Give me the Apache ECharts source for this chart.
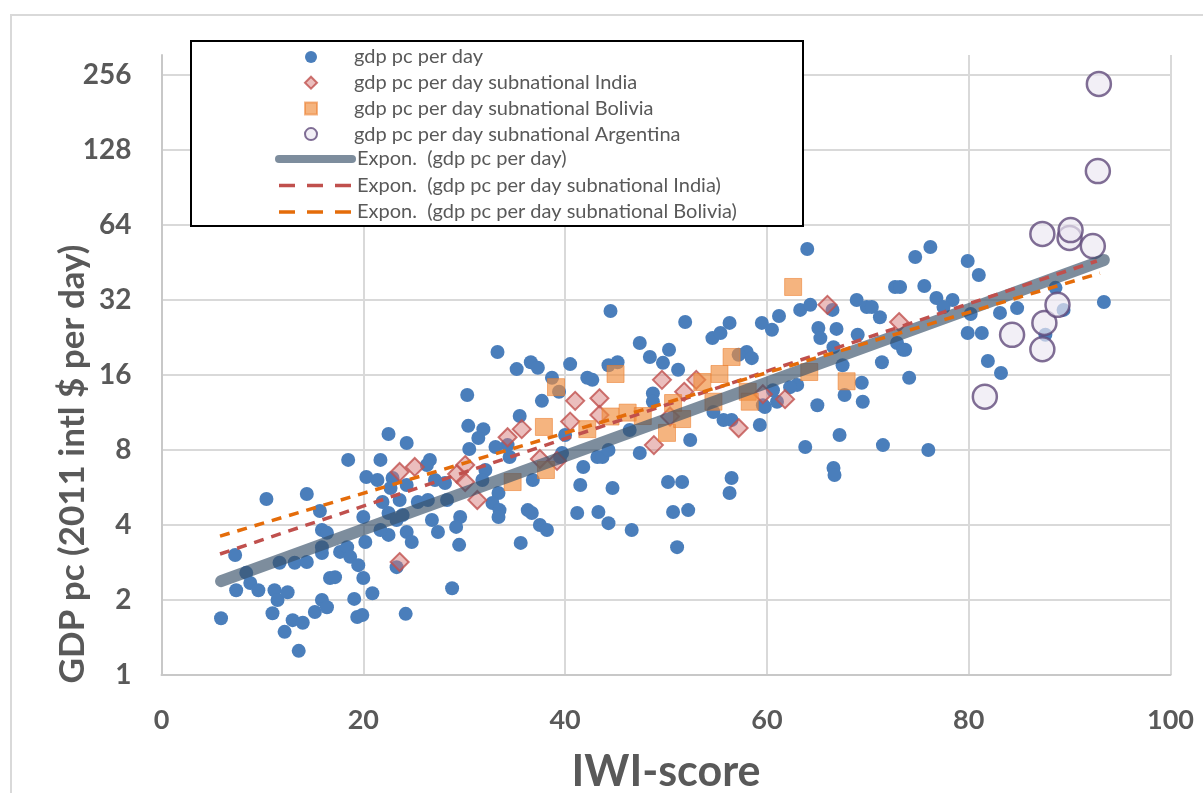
<!DOCTYPE html>
<html><head><meta charset="utf-8">
<script src="https://cdn.jsdelivr.net/npm/echarts@6/dist/echarts.min.js"></script>
<style>html,body{margin:0;padding:0;background:#fff}#c{width:1203px;height:793px}</style>
</head><body><div id="c"></div>
<script>
const seriesNames = ['gdp pc per day','gdp pc per day subnational India','gdp pc per day subnational Bolivia','gdp pc per day subnational Argentina'];
const trendNames = ['Expon.  (gdp pc per day)','Expon.  (gdp pc per day subnational India)','Expon.  (gdp pc per day subnational Bolivia)'];
const xTitle = 'IWI-score';
const yTitle = 'GDP pc (2011 intl $ per day)';
const yTickValues = [1,2,4,8,16,32,64,128,256];

const gdpPoints = [
[5.9,1.69],[7.3,3.03],[7.4,2.19],[8.4,2.57],[8.8,2.34],[9.6,2.19],[10.4,5.09],[11.0,1.77],[11.2,2.19],[11.5,2.0],
[11.7,2.82],[12.2,1.49],[12.5,2.15],[13.0,1.66],[13.2,2.82],[13.6,1.25],[14.0,1.62],[14.4,5.33],[14.4,2.84],[15.2,1.79],
[15.9,2.0],[16.4,1.87],[15.7,4.55],[15.9,3.82],[16.4,3.72],[15.9,3.26],[15.9,3.09],[16.7,2.45],[17.2,2.47],[17.7,3.12],
[18.4,3.26],[18.5,7.30],[19.1,2.02],[18.7,2.98],[19.4,1.71],[19.9,1.74],[19.5,2.76],[20.0,2.45],[20.2,3.42],[20.0,4.31],
[20.3,6.23],[20.9,2.13],[21.4,6.06],[21.7,7.30],[21.9,4.95],[22.5,9.28],[22.5,4.47],[22.5,3.65],[23.3,4.19],[23.3,2.71],
[23.9,4.39],[24.3,8.53],[24.3,5.79],[24.2,1.76],[24.3,3.75],[24.8,3.42],[25.4,4.95],[26.4,5.04],[26.6,7.30],[26.8,4.19],
[27.4,3.75],[27.1,6.06],[28.1,5.90],[28.8,2.23],[22.9,6.18],[26.3,6.96],[21.7,3.82],[23.6,5.04],[28.3,5.04],[22.7,5.63],
[33.3,19.8],[35.2,16.9],[36.6,18.0],[37.3,17.1],[40.5,17.7],[38.7,15.6],[39.4,13.7],[42.2,15.6],[42.7,15.3],[30.3,13.3],
[37.7,12.6],[35.5,10.95],[30.4,10.0],[31.9,9.7],[31.4,8.94],[34.3,8.37],[30.5,8.07],[33.1,8.22],[34.5,7.5],[41.8,6.84],
[40.0,9.19],[39.7,7.78],[32.1,6.65],[31.8,6.06],[33.4,5.38],[32.8,4.9],[36.8,6.06],[41.5,5.79],[33.5,4.59],[33.4,4.31],
[36.3,4.59],[36.7,4.47],[29.6,4.31],[29.2,3.93],[37.5,4.0],[38.2,3.82],[41.2,4.47],[43.3,4.51],[29.5,3.33],[35.6,3.39],
[43.2,7.5],[39.5,7.5],
[44.3,17.5],[45.2,18.0],[47.4,21.5],[48.4,18.9],[49.7,17.9],[50.3,20.2],[51.2,16.8],[48.7,13.5],[48.7,12.5],[54.6,22.5],
[55.4,23.6],[58.0,19.8],[58.5,18.7],[46.4,9.63],[47.4,7.78],[43.7,7.5],[44.3,8.0],[52.4,8.77],[54.7,11.37],[55.7,10.56],
[56.5,10.56],[59.3,10.08],[59.6,12.1],[44.7,5.63],[44.3,4.07],[46.6,3.82],[50.2,5.95],[51.6,5.95],[50.7,4.51],[52.2,4.59],
[51.1,3.26],[56.5,6.18],[56.3,5.38],[44.5,28.9],
[64.0,51.3],[72.7,36.1],[51.9,26.1],[56.3,25.9],[59.5,25.9],[60.5,24.3],[61.2,27.6],[63.3,29.2],[64.3,30.6],[68.9,32.0],
[69.9,30.0],[70.4,30.0],[71.2,27.3],[66.5,29.2],[65.1,24.7],[65.3,22.5],[66.9,24.5],[69.0,23.2],[66.6,20.7],[57.2,19.3],
[67.5,17.5],[71.4,18.0],[72.9,21.5],[69.4,14.9],[69.5,12.5],[67.7,13.3],[65.0,12.1],[63.0,14.6],[62.3,14.3],[61.0,12.5],
[59.8,11.9],[67.2,9.19],[63.8,8.22],[71.5,8.37],[66.6,6.77],[66.7,6.35],[74.1,15.6],[73.5,20.2],[76.0,8.0],[79.9,23.6],
[81.3,23.6],[81.9,18.2],[83.2,16.3],[76.2,52.2],[74.7,47.6],[79.9,45.9],[81.0,40.3],[75.6,36.4],[76.8,32.6],[78.4,32.0],
[77.5,30.0],[73.2,36.1],[80.2,28.1],[83.1,28.4],[84.8,29.7],[88.6,35.8],[89.4,29.2],[93.4,31.4],[87.6,23.2],[73.7,20.2],
[60.6,13.9]
];
const indiaPoints = [
[23.6,2.84],[23.6,6.53],[25.1,6.84],[29.3,6.41],[30.1,6.96],[30.1,5.95],[31.3,5.04],[34.3,9.0],[35.7,9.7],[37.5,7.36],
[39.2,7.23],[40.5,10.4],[41.0,12.6],[43.4,12.9],[43.4,11.06],[48.8,8.37],[49.6,15.3],[50.4,10.9],[51.8,13.7],[53.0,15.3],
[57.2,9.8],[59.6,13.4],[61.8,12.8],[66.0,30.6],[73.1,26.1]
];
const boliviaPoints = [
[34.8,5.95],[37.9,9.9],[38.1,6.65],[39.1,14.3],[42.2,9.7],[44.5,10.9],[45.0,16.15],[46.2,11.3],[47.7,10.95],[50.1,9.37],
[50.7,12.35],[51.6,10.65],[53.6,15.0],[54.7,12.5],[55.3,16.15],[56.5,18.9],[58.1,13.7],[58.3,12.5],[62.6,36.1],[64.2,16.45],
[67.9,15.1]
];
const argentinaPoints = [
[81.6,13.1],[84.3,23.2],[87.3,20.3],[87.5,25.9],[88.8,30.6],[87.3,58.9],[90.0,56.8],[90.1,61.1],[92.3,52.7],[92.8,105.4],
[92.9,235.6]
];
const trendAll = [[5.9,2.38],[93.4,46.3]];
const trendIndia = [[5.8,3.06],[92.7,45.9]];
const trendBolivia = [[5.8,3.61],[93.0,41.0]];

const FONT = 'Lato, "Open Sans", sans-serif';
const TXT = '#595959';
const chart = echarts.init(document.getElementById('c'), null, {renderer:'canvas'});

const GRAY = 'rgba(55,80,105,0.65)';
const RED = '#c0504d';
const ORANGE = '#e46c0a';

const option = {
  animation: false,
  backgroundColor: '#ffffff',
  grid: {left: 161.5, right: 32.5, top: 55, bottom: 118, containLabel: false},
  xAxis: {
    type: 'value', min: 0, max: 100, interval: 20,
    axisLine: {show: true, onZero: false, lineStyle: {color: '#c8c8c8', width: 2}},
    axisTick: {show: false},
    axisLabel: {margin: 32, fontSize: 27, fontWeight: 'bold', color: TXT, fontFamily: FONT},
    splitLine: {show: true, lineStyle: {color: '#d9d9d9', width: 2}}
  },
  yAxis: {
    type: 'log', logBase: 2, min: 1, max: 308,
    axisLine: {show: true, onZero: false, lineStyle: {color: '#c8c8c8', width: 2}},
    axisTick: {show: false},
    axisLabel: {
      margin: 30, fontSize: 28, fontWeight: 'bold', color: TXT, fontFamily: FONT,
      formatter: function (v) {
        const r = Math.round(v);
        return (Math.abs(v - r) < 1e-6 && yTickValues.indexOf(r) >= 0) ? String(r) : '';
      }
    },
    splitLine: {show: true, lineStyle: {color: ['#d9d9d9','#d9d9d9','#d9d9d9','#d9d9d9','#d9d9d9','#d9d9d9','#d9d9d9','#d9d9d9','#d9d9d9','rgba(0,0,0,0)'], width: 2}}
  },
  legend: [
    {
      data: seriesNames, orient: 'vertical', left: 304, top: 47, padding: 0,
      itemWidth: 12, itemHeight: 12, itemGap: 5.7, selectedMode: false, z: 60,
      textStyle: {fontSize: 20, lineHeight: 20, color: TXT, fontFamily: FONT, padding: [0, 0, 0, 32]}
    },
    {
      data: [
        {name: trendNames[0], itemStyle: {opacity: 0}, lineStyle: {width: 8, cap: 'round', color: GRAY}},
        {name: trendNames[1], itemStyle: {opacity: 0}, lineStyle: {width: 3.5, type: [16, 12], color: RED}},
        {name: trendNames[2], itemStyle: {opacity: 0}, lineStyle: {width: 3.5, type: [16, 12], color: ORANGE}}
      ],
      orient: 'vertical', left: 275, top: 149, padding: 0,
      itemWidth: 73, itemHeight: 16, itemGap: 6.5, selectedMode: false, z: 60,
      textStyle: {fontSize: 20, lineHeight: 20, color: TXT, fontFamily: FONT}
    }
  ],
  graphic: [
    {type: 'rect', silent: true, z: -1, shape: {x: 11, y: 15, width: 1210, height: 820}, style: {fill: 'none', stroke: '#d9d9d9', lineWidth: 2}},
    {type: 'rect', silent: true, z: 50, shape: {x: 191, y: 41, width: 612, height: 185}, style: {fill: '#ffffff', stroke: '#000000', lineWidth: 2}},
    {type: 'text', silent: true, x: 73, y: 464, rotation: Math.PI / 2,
      style: {text: yTitle, fontSize: 35, fontWeight: 'bold', fontFamily: FONT, fill: TXT, align: 'center', verticalAlign: 'middle'}},
    {type: 'text', silent: true, x: 666, y: 772,
      style: {text: xTitle, fontSize: 43, fontWeight: 'bold', fontFamily: FONT, fill: TXT, align: 'center', verticalAlign: 'middle'}}
  ],
  series: [
    {name: seriesNames[0], type: 'scatter', data: gdpPoints, symbol: 'circle', symbolSize: 14, z: 2,
      itemStyle: {color: '#4a7ebb', opacity: 1}},
    {name: seriesNames[1], type: 'scatter', data: indiaPoints, symbol: 'diamond', symbolSize: 18, z: 3,
      itemStyle: {color: 'rgba(214,120,118,0.6)', borderColor: RED, borderWidth: 2}},
    {name: seriesNames[2], type: 'scatter', data: boliviaPoints, symbol: 'rect', symbolSize: 17, z: 3,
      itemStyle: {color: 'rgba(240,140,60,0.82)', borderColor: 'rgba(235,125,45,0.7)', borderWidth: 1}},
    {name: seriesNames[3], type: 'scatter', data: argentinaPoints, symbol: 'circle', symbolSize: 24, z: 3,
      itemStyle: {color: 'rgba(236,232,242,0.85)', borderColor: '#604a7b', borderWidth: 2.5}},
    {name: trendNames[0], type: 'line', data: trendAll, symbol: 'none', showSymbol: false, z: 5, silent: true,
      itemStyle: {color: GRAY}, lineStyle: {color: GRAY, width: 12, cap: 'round'}},
    {name: trendNames[1], type: 'line', data: trendIndia, symbol: 'none', showSymbol: false, z: 6, silent: true,
      itemStyle: {color: RED}, lineStyle: {color: RED, width: 3.5, type: [10, 8]}},
    {name: trendNames[2], type: 'line', data: trendBolivia, symbol: 'none', showSymbol: false, z: 6, silent: true,
      itemStyle: {color: ORANGE}, lineStyle: {color: ORANGE, width: 3.5, type: [10, 8]}}
  ]
};
chart.setOption(option);
</script>
</body></html>
